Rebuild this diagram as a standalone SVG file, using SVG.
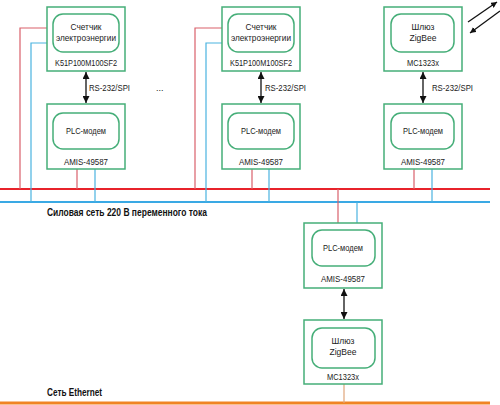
<svg xmlns="http://www.w3.org/2000/svg" width="500" height="405" viewBox="0 0 500 405">
<style>
.box{fill:#fff;stroke:#45ae78;stroke-width:1.5}
.inner{fill:#fff;stroke:#45ae78;stroke-width:1.5}
.t{font-family:"Liberation Sans",Arial,sans-serif;font-size:9px;fill:#222;text-anchor:middle}
.lbl{font-family:"Liberation Sans",Arial,sans-serif;font-size:9px;fill:#222}
.bold{font-family:"Liberation Sans",Arial,sans-serif;font-size:10px;font-weight:bold;fill:#111}
.rc{fill:none;stroke:#d9606b;stroke-width:1.2}
.bc{fill:none;stroke:#4ab3e0;stroke-width:1.2}
.arr{stroke:#111;stroke-width:1.3;fill:none}
</style>
<defs>
<marker id="ah" viewBox="0 0 10 10" refX="10" refY="5" markerWidth="6" markerHeight="6" orient="auto-start-reverse" markerUnits="userSpaceOnUse">
<path d="M0,0 L10,5 L0,10 z" fill="#111"/>
</marker>
<marker id="ah2" viewBox="0 0 10 10" refX="10" refY="5" markerWidth="7" markerHeight="7" orient="auto-start-reverse" markerUnits="userSpaceOnUse">
<path d="M0,0 L10,5 L0,10 z" fill="#111"/>
</marker>
</defs>
<g id="connectors">
<line x1="0" y1="189" x2="490" y2="189" stroke="#e8232b" stroke-width="2"/>
<line x1="0" y1="202" x2="490" y2="202" stroke="#3aa9e4" stroke-width="2"/>
<line x1="0" y1="403" x2="490" y2="403" stroke="#f08424" stroke-width="3"/>
<polyline class="rc" points="47,28 20,28 20,189"/>
<polyline class="bc" points="47,43 31,43 31,202"/>
<line class="rc" x1="77" y1="169" x2="77" y2="189"/>
<line class="bc" x1="95" y1="169" x2="95" y2="202"/>
<polyline class="rc" points="222,28 195,28 195,189"/>
<polyline class="bc" points="222,43 206,43 206,202"/>
<line class="rc" x1="252" y1="169" x2="252" y2="189"/>
<line class="bc" x1="269" y1="169" x2="269" y2="202"/>
<line class="rc" x1="414" y1="169" x2="414" y2="189"/>
<line class="bc" x1="432" y1="169" x2="432" y2="202"/>
<line class="rc" x1="338" y1="189" x2="338" y2="223"/>
<line class="bc" x1="357" y1="202" x2="357" y2="223"/>
<line x1="344" y1="384" x2="344" y2="403" stroke="#dfa57a" stroke-width="1.2"/>
<line class="arr" x1="86" y1="72" x2="86" y2="103" marker-start="url(#ah2)" marker-end="url(#ah2)"/>
<line class="arr" x1="261" y1="72" x2="261" y2="103" marker-start="url(#ah2)" marker-end="url(#ah2)"/>
<line class="arr" x1="423" y1="72" x2="423" y2="103" marker-start="url(#ah2)" marker-end="url(#ah2)"/>
<line class="arr" x1="344" y1="289" x2="344" y2="319" marker-start="url(#ah2)" marker-end="url(#ah2)"/>
<line class="arr" x1="468" y1="22" x2="497" y2="2" marker-end="url(#ah)"/>
<line class="arr" x1="500" y1="11" x2="470" y2="33" marker-end="url(#ah)"/>
<text class="lbl" x="89" y="91" textLength="41" lengthAdjust="spacingAndGlyphs">RS-232/SPI</text>
<text class="lbl" x="265" y="91" textLength="41" lengthAdjust="spacingAndGlyphs">RS-232/SPI</text>
<text class="lbl" x="432" y="91" textLength="41" lengthAdjust="spacingAndGlyphs">RS-232/SPI</text>
<text class="lbl" x="156" y="91">...</text>
</g>
<g id="meter1">
<rect class="box" x="47" y="7" width="78" height="64"/>
<rect class="inner" x="53" y="14" width="66" height="38" rx="10"/>
<text class="t" x="86" y="30" textLength="31" lengthAdjust="spacingAndGlyphs">Счетчик</text>
<text class="t" x="86" y="41" textLength="60" lengthAdjust="spacingAndGlyphs">электроэнергии</text>
<text class="t" x="86" y="66" textLength="62" lengthAdjust="spacingAndGlyphs">K51P100M100SF2</text>
</g>
<g id="plc1">
<rect class="box" x="47" y="104" width="78" height="65"/>
<rect class="inner" x="53" y="113" width="66" height="36" rx="10"/>
<text class="t" x="86" y="134" textLength="40" lengthAdjust="spacingAndGlyphs">PLC-модем</text>
<text class="t" x="86" y="165" textLength="44" lengthAdjust="spacingAndGlyphs">AMIS-49587</text>
</g>
<g id="meter2">
<rect class="box" x="222" y="7" width="78" height="64"/>
<rect class="inner" x="228" y="14" width="66" height="38" rx="10"/>
<text class="t" x="261" y="30" textLength="31" lengthAdjust="spacingAndGlyphs">Счетчик</text>
<text class="t" x="261" y="41" textLength="60" lengthAdjust="spacingAndGlyphs">электроэнергии</text>
<text class="t" x="261" y="66" textLength="62" lengthAdjust="spacingAndGlyphs">K51P100M100SF2</text>
</g>
<g id="plc2">
<rect class="box" x="222" y="104" width="78" height="65"/>
<rect class="inner" x="228" y="113" width="66" height="36" rx="10"/>
<text class="t" x="261" y="134" textLength="40" lengthAdjust="spacingAndGlyphs">PLC-модем</text>
<text class="t" x="261" y="165" textLength="44" lengthAdjust="spacingAndGlyphs">AMIS-49587</text>
</g>
<g id="zigbee1">
<rect class="box" x="384" y="7" width="78" height="64"/>
<rect class="inner" x="391" y="14" width="63" height="38" rx="10"/>
<text class="t" x="423" y="30" textLength="23" lengthAdjust="spacingAndGlyphs">Шлюз</text>
<text class="t" x="423" y="41" textLength="27" lengthAdjust="spacingAndGlyphs">ZigBee</text>
<text class="t" x="423" y="66" textLength="32" lengthAdjust="spacingAndGlyphs">MC1323x</text>
</g>
<g id="plc3">
<rect class="box" x="384" y="104" width="78" height="65"/>
<rect class="inner" x="391" y="113" width="63" height="36" rx="10"/>
<text class="t" x="423" y="134" textLength="40" lengthAdjust="spacingAndGlyphs">PLC-модем</text>
<text class="t" x="423" y="165" textLength="44" lengthAdjust="spacingAndGlyphs">AMIS-49587</text>
</g>
<g id="plc4">
<rect class="box" x="304" y="223" width="78" height="65"/>
<rect class="inner" x="312" y="230" width="63" height="36" rx="10"/>
<text class="t" x="343" y="251" textLength="40" lengthAdjust="spacingAndGlyphs">PLC-модем</text>
<text class="t" x="343" y="282" textLength="44" lengthAdjust="spacingAndGlyphs">AMIS-49587</text>
</g>
<g id="zigbee2">
<rect class="box" x="304" y="320" width="78" height="64"/>
<rect class="inner" x="312" y="328" width="63" height="40" rx="10"/>
<text class="t" x="343" y="344" textLength="23" lengthAdjust="spacingAndGlyphs">Шлюз</text>
<text class="t" x="343" y="355" textLength="27" lengthAdjust="spacingAndGlyphs">ZigBee</text>
<text class="t" x="343" y="380" textLength="32" lengthAdjust="spacingAndGlyphs">MC1323x</text>
</g>
<g id="labels">
<text class="bold" x="47" y="216" textLength="160" lengthAdjust="spacingAndGlyphs">Силовая сеть 220 В переменного тока</text>
<text class="bold" x="47" y="396" textLength="55" lengthAdjust="spacingAndGlyphs">Сеть Ethernet</text>
</g>
</svg>
